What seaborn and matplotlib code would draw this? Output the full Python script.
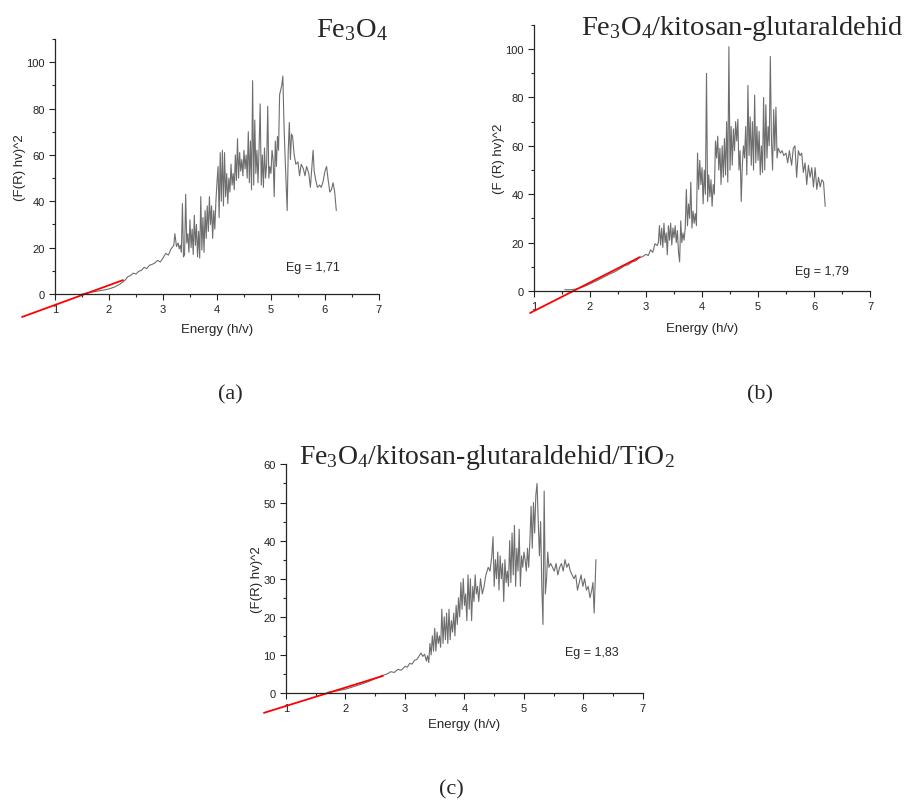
import numpy as np
import matplotlib
matplotlib.use("Agg")
import matplotlib.pyplot as plt
from matplotlib.ticker import MultipleLocator
import seaborn as sns

# --- data ---
# (a) Fe3O4
xa = [1.50, 1.60, 1.70, 1.80, 1.90, 2.00, 2.10, 2.20, 2.30, 2.35, 2.40, 2.45, 2.50, 2.55, 2.60,
      2.65, 2.70, 2.75, 2.80, 2.85, 2.90, 2.95, 3.00, 3.05, 3.10, 3.15, 3.20, 3.22, 3.25, 3.28,
      3.30, 3.32,
      3.34, 3.36, 3.38, 3.40, 3.42, 3.44, 3.46, 3.48, 3.50, 3.52, 3.54, 3.56, 3.58, 3.60, 3.62,
      3.64, 3.66, 3.68, 3.70, 3.72, 3.74, 3.76, 3.78, 3.80, 3.82, 3.84, 3.86, 3.88, 3.90, 3.92,
      3.94, 3.96, 3.98, 4.00, 4.02, 4.04, 4.06, 4.08, 4.10, 4.12, 4.14, 4.16, 4.18, 4.20, 4.22,
      4.24, 4.26, 4.28, 4.30, 4.32, 4.34, 4.36, 4.38, 4.40, 4.42, 4.44, 4.46, 4.48, 4.50, 4.52,
      4.54, 4.56, 4.58, 4.60, 4.62, 4.64, 4.66, 4.68, 4.70, 4.72, 4.74, 4.76, 4.78, 4.80, 4.82,
      4.84, 4.86, 4.88, 4.90, 4.92, 4.94, 4.96, 4.98, 5.00, 5.02, 5.04, 5.06, 5.08, 5.10, 5.12,
      5.14, 5.16, 5.18, 5.20, 5.22, 5.24, 5.26, 5.28, 5.30, 5.32, 5.34, 5.36, 5.38, 5.40, 5.43,
      5.46, 5.50, 5.53, 5.56, 5.60, 5.63, 5.66, 5.70, 5.73, 5.76, 5.78, 5.80, 5.83, 5.86, 5.90,
      5.93, 5.96, 6.00, 6.03, 6.06, 6.09, 6.12, 6.15, 6.18, 6.21]
ya = [0.0, 0.5, 0.9, 1.3, 1.7, 2.2, 3.0, 4.2, 6.0, 7.5, 8.0, 9.0, 8.6, 9.8, 10.2,
      11.5, 11.0, 12.4, 12.8, 13.4, 14.5, 13.8, 15.5, 17.5, 16.8, 19.5, 21.0, 26.0, 20.5, 22.0,
      19.5, 21.0,
      18, 39, 16, 17, 43, 22, 26, 18, 32, 20, 28, 17, 34, 21, 30,
      16, 27, 15.5, 42, 19, 33, 18, 36, 24, 38, 27, 42, 30, 38, 24,
      36, 28, 40, 48, 55, 33, 61, 40, 62, 38, 61, 42, 52, 39, 50,
      44, 56, 47, 52, 45, 60, 49, 67, 50, 61, 53, 58, 51, 62, 54,
      60, 50, 70, 48, 66, 45, 92, 47, 75, 52, 62, 48, 63, 82, 47,
      60, 46, 63, 50, 56, 81, 50, 55, 52, 62, 58, 42, 66, 55, 68,
      62, 86, 88, 90, 94, 74, 60, 48, 36, 62, 74, 58, 69, 68, 60,
      56, 57, 51, 56, 54, 51, 55, 52, 46, 56, 62, 53, 49, 46, 47,
      46, 48, 53, 55, 49, 44, 45, 48, 44, 36]

# (b) Fe3O4/kitosan-glutaraldehid
xb = [1.55, 1.65, 1.75, 1.85, 1.95, 2.05, 2.15, 2.25, 2.35, 2.45, 2.55, 2.62, 2.68, 2.75, 2.82,
      2.88, 2.94, 3.00, 3.04, 3.08, 3.12, 3.16, 3.20,
      3.22, 3.24, 3.26, 3.28, 3.30, 3.32, 3.34, 3.36, 3.38, 3.40, 3.42, 3.44, 3.46, 3.48, 3.50,
      3.52, 3.54, 3.56, 3.58, 3.60, 3.62, 3.64, 3.66, 3.68, 3.70, 3.72, 3.74, 3.76, 3.78, 3.80,
      3.82, 3.84, 3.86, 3.88, 3.90, 3.92, 3.94, 3.96, 3.98, 4.00, 4.02, 4.04, 4.06, 4.08, 4.10,
      4.12, 4.14, 4.16, 4.18, 4.20, 4.22, 4.24, 4.26, 4.28, 4.30, 4.32, 4.34, 4.36, 4.38, 4.40,
      4.42, 4.44, 4.46, 4.48, 4.50, 4.52, 4.54, 4.56, 4.58, 4.60, 4.62, 4.64, 4.66, 4.68, 4.70,
      4.72, 4.74, 4.76, 4.78, 4.80, 4.82, 4.84, 4.86, 4.88, 4.90, 4.92, 4.94, 4.96, 4.98, 5.00,
      5.02, 5.04, 5.06, 5.08, 5.10, 5.12, 5.14, 5.16, 5.18, 5.20, 5.22, 5.24, 5.26, 5.28, 5.30,
      5.32, 5.34, 5.36, 5.40, 5.43, 5.46, 5.50, 5.53, 5.56, 5.60, 5.63, 5.66, 5.69, 5.72, 5.75,
      5.78, 5.81, 5.84, 5.87, 5.90, 5.93, 5.96, 5.99, 6.02, 6.05, 6.08, 6.11, 6.14, 6.17, 6.20]
yb = [0.5, 0.5, 0.8, 1.5, 2.4, 3.5, 4.6, 5.8, 7.0, 8.0, 9.4, 10.5, 10.8, 12.0, 12.5,
      13.8, 14.2, 15.2, 14.6, 17.0, 16.0, 19.5, 18.8,
      20, 27, 19, 26, 18, 28, 20, 24, 15, 27, 21, 28, 19, 26, 22,
      27, 20, 25, 16, 12, 29, 20, 24, 21, 26, 42, 27, 36, 30, 45,
      26, 33, 28, 32, 27, 57, 42, 54, 44, 51, 36, 50, 40, 90, 37,
      48, 39, 46, 35, 44, 40, 62, 55, 64, 50, 59, 44, 60, 47, 63,
      48, 70, 45, 101, 50, 68, 52, 67, 58, 70, 62, 71, 50, 58, 37,
      52, 60, 55, 68, 48, 85, 56, 72, 52, 70, 50, 81, 53, 68, 54,
      66, 48, 60, 49, 80, 50, 77, 55, 68, 60, 97, 62, 50, 75, 58,
      76, 55, 59, 57, 58, 56, 57, 53, 58, 52, 59, 60, 47, 58, 56,
      57, 49, 53, 44, 52, 47, 51, 43, 51, 42, 47, 43, 46, 45, 35]

# (c) Fe3O4/kitosan-glutaraldehid/TiO2
xc = [1.70, 1.80, 1.90, 2.00, 2.10, 2.20, 2.30, 2.40, 2.50, 2.60, 2.70, 2.76, 2.82, 2.88, 2.94,
      3.00, 3.04, 3.08, 3.12, 3.16, 3.20, 3.24, 3.27, 3.30, 3.33, 3.36, 3.38, 3.40,
      3.42, 3.44, 3.46, 3.48, 3.50, 3.52, 3.54, 3.56, 3.58, 3.60, 3.62, 3.64, 3.66, 3.68, 3.70,
      3.72, 3.74, 3.76, 3.78, 3.80, 3.82, 3.84, 3.86, 3.88, 3.90, 3.92, 3.94, 3.96, 3.98, 4.00,
      4.02, 4.04, 4.06, 4.08, 4.10, 4.12, 4.14, 4.16, 4.18, 4.20, 4.22, 4.24, 4.27, 4.30, 4.33,
      4.36, 4.40, 4.43, 4.46, 4.48, 4.50, 4.52, 4.54, 4.56, 4.58, 4.60, 4.62, 4.64, 4.66, 4.68,
      4.70, 4.72, 4.74, 4.76, 4.78, 4.80, 4.82, 4.84, 4.86, 4.88, 4.90, 4.92, 4.94, 4.96, 4.98,
      5.00, 5.02, 5.04, 5.06, 5.08, 5.10, 5.12, 5.14, 5.16, 5.18, 5.20, 5.22, 5.24, 5.26, 5.28,
      5.30, 5.32, 5.34, 5.36, 5.38, 5.40, 5.42, 5.45, 5.48, 5.51, 5.54, 5.57, 5.60, 5.63, 5.66,
      5.69, 5.72, 5.75, 5.78, 5.81, 5.84, 5.87, 5.90, 5.93, 5.96, 5.99, 6.02, 6.05, 6.08, 6.11,
      6.14, 6.16, 6.18, 6.21]
yc = [0.2, 0.4, 0.7, 1.0, 1.5, 2.0, 2.5, 3.1, 3.8, 4.5, 5.0, 5.6, 5.4, 6.2, 6.0,
      7.0, 6.8, 7.8, 7.6, 8.6, 8.8, 9.8, 10.5, 9.6, 10.2, 8.4, 9.8, 8.0,
      13, 10, 15, 11, 17, 11, 16, 13, 15, 12, 22, 13, 20, 14, 21,
      13, 22, 14, 19, 16, 21, 15, 23, 18, 25, 20, 29, 22, 30, 23,
      26, 19, 31, 22, 30, 19, 28, 24, 31, 26, 28, 24, 30, 26, 28,
      31, 33, 32, 36, 41, 28, 35, 30, 37, 27, 36, 30, 34, 24, 35,
      29, 32, 28, 40, 29, 42, 31, 44, 28, 38, 32, 43, 28, 36, 33,
      37, 35, 32, 38, 33, 40, 49, 38, 50, 42, 52, 55, 45, 36, 45,
      28, 18, 53, 26, 30, 37, 33, 34, 33, 32, 34, 31, 33, 34, 32,
      35, 33, 34, 32, 31, 30, 31, 27, 29, 31, 28, 30, 27, 28, 25,
      27, 29, 21, 35]

# tangent (Tauc) lines, two end points each
fit_a_x = [0.39, 2.26]
fit_a_y = [-9.9, 6.0]
fit_b_x = [0.93, 2.89]
fit_b_y = [-9.1, 14.0]
fit_c_x = [0.63, 2.63]
fit_c_y = [-5.2, 4.5]

eg_labels = ["Eg = 1,71", "Eg = 1,79", "Eg = 1,83"]
titles = [r"Fe$_3$O$_4$", r"Fe$_3$O$_4$/kitosan-glutaraldehid",
          r"Fe$_3$O$_4$/kitosan-glutaraldehid/TiO$_2$"]

sns.set_style("ticks")
plt.rcParams['font.family'] = ['Liberation Sans', 'DejaVu Sans']
plt.rcParams['mathtext.fontset'] = 'custom'
plt.rcParams['mathtext.rm'] = 'Liberation Serif'
plt.rcParams['mathtext.it'] = 'Liberation Serif:italic'

fig = plt.figure(figsize=(9.09, 8.03), dpi=100)

panels = [
    dict(rect=[0.0605, 0.6326, 0.3564, 0.3176], x=xa, y=ya, fx=fit_a_x, fy=fit_a_y,
         ylim=110, major=20, minor=10, ylab="(F(R) hv)^2", eg=(5.28, 11.6), xpad=6),
    dict(rect=[0.5875, 0.6364, 0.3696, 0.3313], x=xb, y=yb, fx=fit_b_x, fy=fit_b_y,
         ylim=110, major=20, minor=10, ylab="(F (R) hv)^2", eg=(5.66, 8.3), xpad=8),
    dict(rect=[0.3146, 0.1357, 0.3927, 0.2847], x=xc, y=yc, fx=fit_c_x, fy=fit_c_y,
         ylim=60, major=10, minor=5, ylab="(F(R) hv)^2", eg=(5.69, 10.8), xpad=3),
]

for i, p in enumerate(panels):
    ax = fig.add_axes(p["rect"])
    sns.lineplot(x=p["x"], y=p["y"], ax=ax, color="#6e6e6e", linewidth=0.8,
                 estimator=None, sort=False)
    sns.lineplot(x=p["fx"], y=p["fy"], ax=ax, color="red", linewidth=1.3,
                 estimator=None, sort=False, clip_on=False)
    ax.set_xlim(1, 7)
    ax.set_ylim(0, p["ylim"])
    ax.xaxis.set_major_locator(MultipleLocator(1))
    ax.xaxis.set_minor_locator(MultipleLocator(0.5))
    ax.yaxis.set_major_locator(MultipleLocator(p["major"]))
    ax.yaxis.set_minor_locator(MultipleLocator(p["minor"]))
    ax.tick_params(which="major", length=4, width=0.8, labelsize=8, colors="#222222")
    ax.tick_params(which="minor", length=2.5, width=0.8)
    ax.set_xlabel("Energy (h/v)", fontsize=9.5, labelpad=p["xpad"])
    ax.set_ylabel(p["ylab"], fontsize=9.5, labelpad=0)
    ax.text(p["eg"][0], p["eg"][1], eg_labels[i], fontsize=9, va="center", ha="left")
    sns.despine(ax=ax)
    for s in ["left", "bottom"]:
        ax.spines[s].set_linewidth(0.9)

fig.text(0.387, 0.962, titles[0], fontsize=20.5, family="Liberation Serif", ha="center", va="center")
fig.text(0.817, 0.965, titles[1], fontsize=20.5, family="Liberation Serif", ha="center", va="center")
fig.text(0.536, 0.430, titles[2], fontsize=20, family="Liberation Serif", ha="center", va="center")

fig.text(0.253, 0.508, "(a)", fontsize=16, family="Liberation Serif", ha="center", va="center")
fig.text(0.836, 0.508, "(b)", fontsize=16, family="Liberation Serif", ha="center", va="center")
fig.text(0.497, 0.016, "(c)", fontsize=16, family="Liberation Serif", ha="center", va="center")

fig.savefig("out.png", dpi=100)
